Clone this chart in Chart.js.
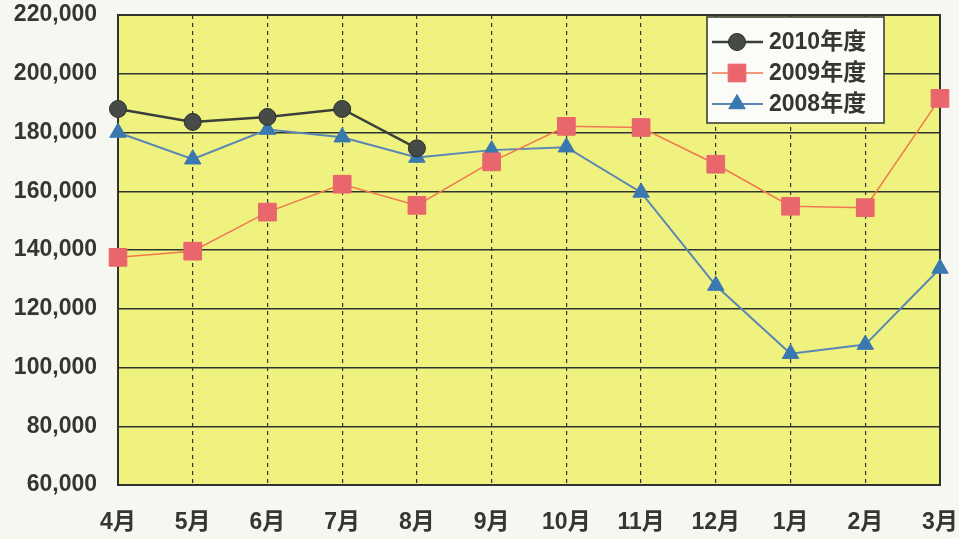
<!DOCTYPE html>
<html><head><meta charset="utf-8">
<script src="https://cdn.jsdelivr.net/npm/chart.js@4/dist/chart.umd.min.js"></script>
<style>html,body{margin:0;padding:0;background:#f7f7f2;}#wrap{width:959px;height:539px;}</style>
</head><body><div id="wrap"><canvas id="c" width="959" height="539"></canvas></div>
<script>
const months = ['4月','5月','6月','7月','8月','9月','10月','11月','12月','1月','2月','3月'];
const labels2010 = '2010年度', labels2009 = '2009年度', labels2008 = '2008年度';
const fy2010 = [188000, 183600, 185300, 188000, 174600, null, null, null, null, null, null, null];
const fy2009 = [137500, 139600, 152900, 162400, 155200, 170000, 182100, 181700, 169200, 154900, 154400, 191600];
const fy2008 = [180000, 170900, 181000, 178400, 171500, 174000, 175000, 159600, 127900, 104700, 107800, 133700];
const yMin = 60000, yMax = 220000, yStep = 20000;

const FONT = "'Liberation Sans', 'Noto Sans CJK JP', sans-serif";
const TXT = '#333633';

const bgPlugin = {
  id: 'bg',
  beforeDraw(chart) {
    const {ctx, chartArea: a} = chart;
    ctx.save();
    ctx.fillStyle = '#eff27f';
    ctx.fillRect(a.left, a.top, a.right - a.left, a.bottom - a.top);
    ctx.restore();
  },
  beforeDatasetsDraw(chart) {
    const {ctx, chartArea: a} = chart;
    ctx.save();
    ctx.strokeStyle = '#2f3430';
    ctx.lineWidth = 2;
    ctx.strokeRect(a.left, a.top, a.right - a.left, a.bottom - a.top);
    ctx.restore();
  }
};

const legendPlugin = {
  id: 'boxLegend',
  afterDraw(chart) {
    const {ctx} = chart;
    const x0 = 707, y0 = 17, w = 177, h = 106;
    ctx.save();
    ctx.fillStyle = '#fbfbf8';
    ctx.fillRect(x0, y0, w, h);
    ctx.strokeStyle = '#2f3430';
    ctx.lineWidth = 1.5;
    ctx.strokeRect(x0, y0, w, h);
    const rows = [42, 73, 104];
    chart.data.datasets.forEach((ds, i) => {
      const y = rows[i];
      ctx.strokeStyle = ds.borderColor;
      ctx.lineWidth = ds.borderWidth;
      ctx.beginPath(); ctx.moveTo(712, y); ctx.lineTo(763, y); ctx.stroke();
      ctx.fillStyle = ds.pointBackgroundColor;
      ctx.strokeStyle = ds.pointBorderColor;
      ctx.lineWidth = 1;
      Chart.helpers.drawPoint(ctx, {pointStyle: ds.pointStyle, radius: ds.pointRadius, borderWidth: 1}, 737, y);
      ctx.fillStyle = TXT;
      ctx.font = "bold 23px " + FONT;
      ctx.textBaseline = 'middle';
      ctx.textAlign = 'left';
      ctx.fillText(ds.label, 769, y + 1);
    });
    ctx.restore();
  }
};

new Chart(document.getElementById('c'), {
  type: 'line',
  data: {
    labels: months,
    datasets: [
      {label: labels2010, data: fy2010, borderColor: '#3a3f3b', borderWidth: 2.5,
       pointStyle: 'circle', pointRadius: 8.5, pointBackgroundColor: '#474b48', pointBorderColor: '#2a2e2b', pointBorderWidth: 1},
      {label: labels2009, data: fy2009, borderColor: '#f0784e', borderWidth: 1.5,
       pointStyle: 'rect', pointRadius: 12.5, pointBackgroundColor: '#e8666c', pointBorderColor: '#e8666c', pointBorderWidth: 1},
      {label: labels2008, data: fy2008, borderColor: '#5a86b4', borderWidth: 2,
       pointStyle: 'triangle', pointRadius: 9.5, pointBackgroundColor: '#3a78b0', pointBorderColor: '#3a78b0', pointBorderWidth: 1}
    ]
  },
  options: {
    responsive: false,
    animation: false,
    spanGaps: false,
    layout: {padding: {left: 0, right: 19, top: 15, bottom: 0}},
    plugins: {legend: {display: false}, tooltip: {enabled: false}},
    elements: {line: {tension: 0}},
    scales: {
      x: {
        offset: false,
        grid: {color: '#2f3430', lineWidth: 1.2, drawTicks: false},
        border: {display: false, dash: [4, 4]},
        ticks: {color: TXT, font: {family: FONT, size: 23, weight: 'bold'}, padding: 24, maxRotation: 0, autoSkip: false},
        afterFit(s) { s.height = 54; s.paddingLeft = 0; s.paddingRight = 0; }
      },
      y: {
        min: yMin, max: yMax,
        grid: {color: '#2f3430', lineWidth: 1.5, drawTicks: false},
        border: {display: false},
        ticks: {stepSize: yStep, color: TXT, font: {family: FONT, size: 23, weight: 'bold'}, padding: 21,
                callback: v => v.toLocaleString('en-US')},
        afterFit(s) { s.width = 118; s.paddingTop = 0; s.paddingBottom = 0; }
      }
    }
  },
  plugins: [bgPlugin, legendPlugin]
});
</script></body></html>
